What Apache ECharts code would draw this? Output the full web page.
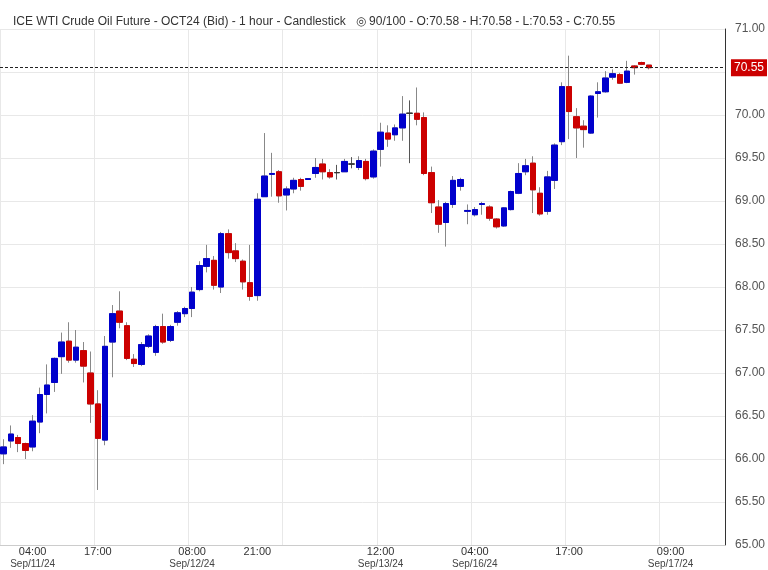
<!DOCTYPE html>
<html><head><meta charset="utf-8">
<script src="https://cdn.jsdelivr.net/npm/echarts@6/dist/echarts.min.js"></script>
<style>html,body{margin:0;padding:0;background:#fff}#c{width:768px;height:570px}</style>
</head><body><div id="c"></div>
<script>
// [open, close, low, high]
const candles = [
[66.06,66.14,65.94,66.23],[66.21,66.29,66.13,66.39],[66.25,66.18,66.08,66.28],[66.18,66.10,66.00,66.19],
[66.14,66.44,66.09,66.51],[66.43,66.75,66.30,66.83],[66.75,66.86,66.53,67.10],[66.89,67.17,66.78,67.18],
[67.19,67.36,66.99,67.47],[67.37,67.15,67.12,67.59],[67.15,67.30,67.12,67.50],[67.26,67.08,66.89,67.36],
[67.00,66.64,66.42,67.25],[66.64,66.24,65.64,66.80],[66.22,67.31,66.16,67.43],[67.36,67.69,66.95,67.79],
[67.72,67.59,67.52,67.95],[67.55,67.17,67.15,67.59],[67.16,67.11,67.07,67.22],[67.10,67.33,67.08,67.36],
[67.31,67.43,67.29,67.45],[67.24,67.54,67.20,67.56],[67.54,67.36,67.34,67.69],[67.38,67.54,67.36,67.56],
[67.59,67.70,67.55,67.72],[67.69,67.75,67.65,67.77],[67.75,67.94,67.65,68.00],[67.97,68.25,67.95,68.30],
[68.24,68.33,68.17,68.49],[68.31,68.02,67.97,68.36],[68.00,68.62,67.93,68.64],[68.62,68.40,68.33,68.67],
[68.42,68.33,68.29,68.51],[68.30,68.06,67.97,68.32],[68.05,67.89,67.84,68.49],[67.90,69.02,67.84,69.09],
[69.05,69.29,69.05,69.79],[69.31,69.32,69.05,69.56],[69.34,69.06,68.98,69.36],[69.07,69.14,68.89,69.17],
[69.14,69.24,69.09,69.27],[69.25,69.17,69.12,69.27],[69.25,69.26,69.25,69.26],[69.32,69.39,69.27,69.50],
[69.43,69.34,69.25,69.49],[69.33,69.28,69.26,69.37],[69.33,69.33,69.25,69.42],[69.34,69.46,69.34,69.49],
[69.43,69.43,69.38,69.51],[69.39,69.47,69.36,69.52],[69.46,69.26,69.24,69.49],[69.28,69.58,69.26,69.60],
[69.60,69.80,69.40,69.91],[69.79,69.72,69.63,69.88],[69.77,69.85,69.70,69.89],[69.85,70.01,69.70,70.22],
[70.02,70.02,69.44,70.17],[70.02,69.95,69.88,70.32],[69.97,69.32,69.30,70.03],[69.33,68.98,68.86,69.40],
[68.93,68.73,68.63,69.01],[68.75,68.97,68.47,68.99],[68.96,69.24,68.92,69.29],[69.17,69.25,69.12,69.27],
[68.88,68.89,68.73,68.96],[68.84,68.90,68.82,68.93],[68.96,68.97,68.84,68.99],[68.93,68.80,68.77,68.95],
[68.79,68.70,68.68,68.80],[68.71,68.92,68.70,68.93],[68.90,69.11,68.89,69.12],[69.09,69.32,69.08,69.44],
[69.34,69.41,69.30,69.49],[69.44,69.13,68.86,69.52],[69.09,68.85,68.83,69.16],[68.88,69.28,68.84,69.35],
[69.24,69.65,69.14,69.67],[69.69,70.33,69.65,70.38],[70.33,70.04,69.72,70.69],[69.98,69.85,69.50,70.08],
[69.87,69.83,69.62,69.94],[69.79,70.22,69.78,70.23],[70.25,70.27,69.97,70.38],[70.27,70.43,70.26,70.51],
[70.44,70.48,70.41,70.53],[70.47,70.37,70.36,70.49],[70.38,70.51,70.37,70.63],[70.57,70.55,70.47,70.58],
[70.61,70.59,70.58,70.62],[70.58,70.55,70.53,70.58]
];
const slotCount = 100;
const tickIdx   = [4, 13, 26, 35, 52, 65, 78, 92];
const tickTime  = ['04:00','17:00','08:00','21:00','12:00','04:00','17:00','09:00'];
const tickDate  = ['Sep/11/24','','Sep/12/24','','Sep/13/24','Sep/16/24','','Sep/17/24'];
const gridIdx   = [0, 13, 26, 39, 52, 65, 78, 91];
const lastPrice = 70.55;

const cats = [];
for (let i = 0; i < slotCount; i++) {
  const k = tickIdx.indexOf(i);
  cats.push(k >= 0 ? '{t|' + tickTime[k] + '}\n{d|' + tickDate[k] + '}' : '');
}
const bodies = candles.map(c => [c[0], c[1], Math.min(c[0], c[1]), Math.max(c[0], c[1])]);

const chart = echarts.init(document.getElementById('c'));
chart.setOption({
  animation: false,
  title: {
    text: 'ICE WTI Crude Oil Future - OCT24 (Bid) - 1 hour - Candlestick   \u25CE 90/100 - O:70.58 - H:70.58 - L:70.53 - C:70.55',
    left: 8, top: 11,
    textStyle: { fontSize: 12, fontWeight: 'normal', color: '#333', fontFamily: 'Arial, Liberation Sans' }
  },
  grid: { left: 0, right: 42, top: 29, bottom: 24 },
  xAxis: {
    type: 'category', data: cats, boundaryGap: true,
    axisLine: { lineStyle: { color: '#ccc' } },
    axisTick: { show: false },
    axisLabel: {
      interval: 0, margin: 1, lineHeight: 12,
      rich: { t: { fontSize: 11, color: '#333', fontFamily: 'Arial, Liberation Sans' },
              d: { fontSize: 10, color: '#444', fontFamily: 'Arial, Liberation Sans' } }
    },
    splitLine: { show: true, interval: (i) => gridIdx.indexOf(i) >= 0, lineStyle: { color: '#e8e8e8' } }
  },
  yAxis: {
    type: 'value', position: 'right', min: 65, max: 71, interval: 0.5, scale: true,
    axisLine: { show: true, lineStyle: { color: '#333' } },
    axisTick: { show: false },
    axisLabel: { formatter: v => v.toFixed(2), color: '#555', fontSize: 12, margin: 10, fontFamily: 'Arial, Liberation Sans' },
    splitLine: { lineStyle: { color: '#e8e8e8' } }
  },
  series: [
    { type: 'candlestick', data: candles, barWidth: 6,
      itemStyle: { color: '#0000cc', color0: '#cc0000', borderColor: '#888', borderColor0: '#888', borderColorDoji: '#555', borderWidth: 1 },
      markLine: {
        symbol: 'none', silent: true,
        lineStyle: { color: '#222', type: [3, 2], width: 1 },
        label: { position: 'end', formatter: lastPrice.toFixed(2), color: '#fff', backgroundColor: '#cc0000',
                 padding: [3, 3, 2, 3], fontSize: 12, distance: 6, fontFamily: 'Arial, Liberation Sans' },
        data: [{ yAxis: lastPrice }]
      }
    },
    { type: 'candlestick', data: bodies, barWidth: 6,
      itemStyle: { color: '#0000cc', color0: '#cc0000', borderColor: '#0000cc', borderColor0: '#cc0000', borderColorDoji: '#333', borderWidth: 1 }
    }
  ]
});
</script></body></html>
